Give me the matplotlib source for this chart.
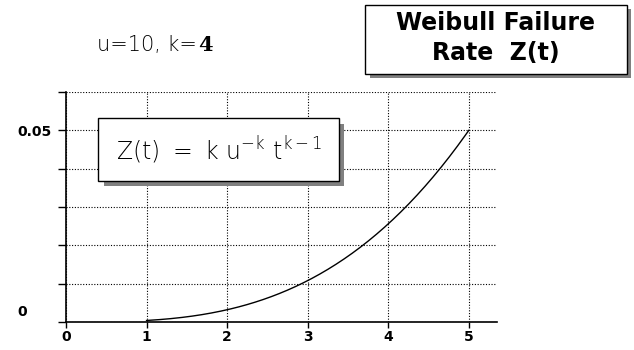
import numpy as np
import matplotlib.pyplot as plt
from matplotlib.patches import Rectangle
from matplotlib.transforms import ScaledTranslation

# Weibull parameters
u = 10
k = 4
t = np.linspace(1, 5, 200)
z = k * u ** (-k) * t ** (k - 1)

x_ticks = [0, 1, 2, 3, 4, 5]
y_ticks = [0, 0.01, 0.02, 0.03, 0.04, 0.05, 0.06]
y_tick_labels = ['0', '', '', '', '', '0.05', '']

W, H = 634, 350
fig = plt.figure(figsize=(W / 100, H / 100), dpi=100)


def px(x0, y0, x1, y1):
    # pixel box (top-left origin) -> figure fraction rect
    return [x0 / W, 1 - y1 / H, (x1 - x0) / W, (y1 - y0) / H]


def box(x0, y0, x1, y1, **kw):
    r = px(x0, y0, x1, y1)
    fig.patches.append(Rectangle(r[:2], r[2], r[3], transform=fig.transFigure, **kw))


ax = fig.add_axes(px(66, 92, 497, 322))
ax.plot(t, z, color='black', lw=1)
ax.set_xlim(0, 5.35)
ax.set_ylim(0, 0.06)

ax.set_xticks(x_ticks)
ax.set_xticklabels([str(v) for v in x_ticks], fontweight='bold', fontsize=10)
ax.set_yticks(y_ticks)
ax.set_yticklabels(y_tick_labels, fontweight='bold', fontsize=10, ha='left')
ax.tick_params(axis='y', direction='out', length=6, width=1, pad=29)
ax.tick_params(axis='x', direction='out', length=4, width=1, pad=2)
ax.grid(True, color='black', linestyle=(0, (1, 1.5)), linewidth=0.8)
for s in ['top', 'right']:
    ax.spines[s].set_visible(False)
for s in ['left', 'bottom']:
    ax.spines[s].set_linewidth(1.2)

# lift the bottom "0" label a little
lab0 = ax.get_yticklabels()[0]
lab0.set_transform(lab0.get_transform() + ScaledTranslation(0, 0.11, fig.dpi_scale_trans))

# title box with shadow
box(370, 9, 631, 78, facecolor='#808080', edgecolor='none')
box(365, 5, 627, 74, facecolor='white', edgecolor='black', lw=1)
fig.text(496 / W, 1 - 23 / H, 'Weibull Failure', ha='center', va='center',
         fontsize=17, fontweight='bold')
fig.text(496 / W, 1 - 53 / H, 'Rate  Z(t)', ha='center', va='center',
         fontsize=17, fontweight='bold')

# formula box with shadow
box(104, 124, 344, 186, facecolor='#808080', edgecolor='none')
box(98, 118, 339, 181, facecolor='white', edgecolor='black', lw=1)
fig.text(219 / W, 1 - 150 / H, r'$\mathregular{Z(t)\ =\ k\ u^{-k}\ t^{k-1}}$',
         ha='center', va='center', fontsize=17, fontweight='light')

# parameter note, with k in bold serif right after it
note = fig.text(97 / W, 1 - 45 / H, f'u={u}, k=', ha='left', va='center',
                fontsize=15, fontweight='light')
fig.canvas.draw()
bb = note.get_window_extent()
fig.text((bb.x1 + 1) / W, 1 - 45 / H, str(k), ha='left', va='center',
         fontsize=15, fontweight='bold', family='DejaVu Serif')

fig.savefig('out.png', dpi=100)
